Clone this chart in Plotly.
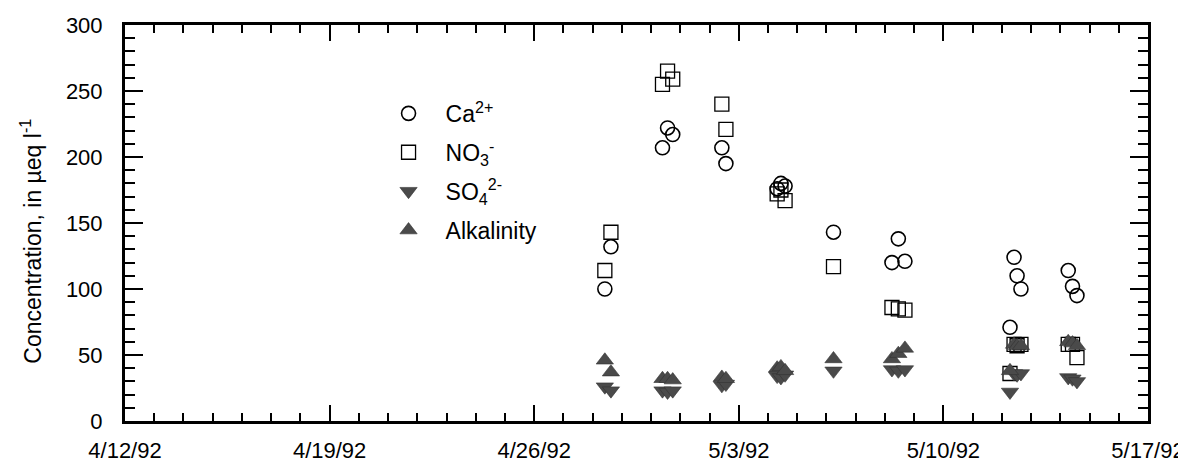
import plotly.graph_objects as go

# sample times
sample_times = [
    "1992-04-28 10:00", "1992-04-28 15:00",
    "1992-04-30 09:20", "1992-04-30 13:30", "1992-04-30 17:45",
    "1992-05-02 10:05", "1992-05-02 13:25",
    "1992-05-04 07:30", "1992-05-04 10:35", "1992-05-04 14:00",
    "1992-05-06 05:45",
    "1992-05-08 05:45", "1992-05-08 11:00", "1992-05-08 16:25",
    "1992-05-12 06:40", "1992-05-12 10:00", "1992-05-12 12:30", "1992-05-12 15:40",
    "1992-05-14 06:30", "1992-05-14 10:00", "1992-05-14 13:40",
]

# concentrations, in microequivalents per liter
calcium = [100, 132, 207, 222, 217, 207, 195, 176, 180, 178, 143,
           120, 138, 121, 71, 124, 110, 100, 114, 102, 95]
nitrate = [114, 143, 255, 265, 259, 240, 221, 172, 175, 167, 117,
           86, 85, 84, 36, 58, 57, 58, 58, 58, 48]
sulfate = [26, 23, 23, 22, 23, 27, 28, 34, 33, 35, 38,
           39, 38, 39, 22, 36, 35, 36, 33, 32, 30]
alkalinity = [46, 37, 32, 32, 31, 33, 32, 40, 41, 38, 47,
              47, 51, 55, 38, 58, 57, 57, 60, 59, 57]

x_ticks = ["1992-04-12", "1992-04-19", "1992-04-26", "1992-05-03", "1992-05-10", "1992-05-17"]
x_tick_labels = ["4/12/92", "4/19/92", "4/26/92", "5/3/92", "5/10/92", "5/17/92"]

FONT = "Liberation Sans, Arial, Helvetica, sans-serif"
GRAY = "#4a4a4a"

fig = go.Figure()
fig.add_trace(go.Scatter(
    x=sample_times, y=calcium, mode="markers", name="Ca<sup>2+</sup>", legendgroup="a",
    marker=dict(symbol="circle-open", size=14, color="black", line=dict(width=1.6))))
fig.add_trace(go.Scatter(
    x=sample_times, y=nitrate, mode="markers", name="NO<sub>3</sub><sup>-</sup>", legendgroup="b",
    marker=dict(symbol="square-open", size=14, color="black", line=dict(width=1.3))))
fig.add_trace(go.Scatter(
    x=sample_times, y=sulfate, mode="markers", name="SO<sub>4</sub><sup>2-</sup>", legendgroup="c",
    marker=dict(symbol="triangle-down", size=15, color=GRAY, line=dict(width=0.6, color="#333"))))
fig.add_trace(go.Scatter(
    x=sample_times, y=alkalinity, mode="markers", name="Alkalinity", legendgroup="d",
    marker=dict(symbol="triangle-up", size=15, color=GRAY, line=dict(width=0.6, color="#333"))))

fig.update_xaxes(
    type="date", range=["1992-04-12", "1992-05-17"],
    tickvals=x_ticks, ticktext=x_tick_labels,
    ticks="inside", ticklen=16, tickwidth=2, tickcolor="black",
    minor=dict(dtick=86400000, tick0="1992-04-12", ticks="inside", ticklen=8,
               tickwidth=2, tickcolor="black"),
    showline=True, linewidth=3, linecolor="black", mirror="ticks",
    showgrid=False, zeroline=False, ticklabelstandoff=8, automargin=False,
    tickfont=dict(family=FONT, size=22, color="black"))
fig.update_yaxes(
    range=[0, 300], dtick=50,
    ticks="inside", ticklen=18, tickwidth=2, tickcolor="black",
    minor=dict(dtick=10, ticks="inside", ticklen=10, tickwidth=2, tickcolor="black"),
    showline=True, linewidth=3, linecolor="black", mirror="ticks",
    showgrid=False, zeroline=False, ticklabelstandoff=15, automargin=False,
    tickfont=dict(family=FONT, size=22, color="black"))

# y axis title placed as an annotation (sits a little below the plot centre)
fig.add_annotation(
    text="Concentration, in µeq l<sup>-1</sup>", textangle=-90,
    xref="paper", yref="paper", x=-0.092, y=0.455,
    xanchor="center", yanchor="middle", showarrow=False,
    font=dict(family=FONT, size=23, color="black"))

# the page body adds an 8px offset, so the figure is 8px smaller each way
fig.update_layout(
    width=1178, height=454,
    margin=dict(l=117, r=38, t=17, b=41),
    paper_bgcolor="white", plot_bgcolor="white",
    legend=dict(x=0.241, y=0.831, xanchor="left", yanchor="top", itemwidth=64,
                bgcolor="rgba(0,0,0,0)", tracegroupgap=6,
                font=dict(family=FONT, size=23, color="black")),
)

fig.write_html("out.html")
